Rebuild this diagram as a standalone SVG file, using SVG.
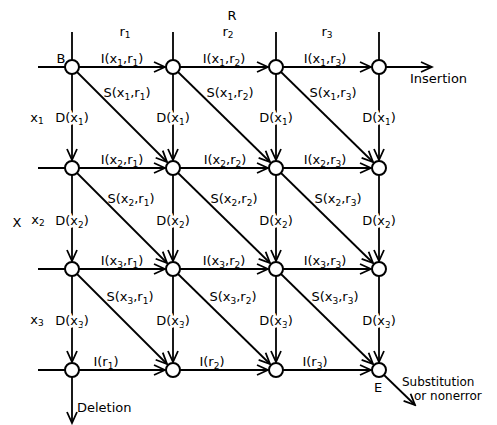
<svg xmlns="http://www.w3.org/2000/svg" width="497" height="425" viewBox="0 0 497 425">
<style>
text{font-family:"DejaVu Sans","Liberation Sans",sans-serif;font-size:13px;fill:#000}
.m{text-anchor:middle}
.s{font-size:9px}
.sm{font-size:12px}
.h{paint-order:stroke;stroke:#fff;stroke-width:5px;stroke-linejoin:round}
.ln{stroke:#000;stroke-width:1.8;fill:none}
.ar{stroke:#000;stroke-width:1.8;fill:none;marker-end:url(#a)}
.nd{fill:#fff;stroke:#000;stroke-width:2}
</style>
<defs>
<marker id="a" viewBox="-13 -7 15 14" refX="0" refY="0" markerWidth="15" markerHeight="14" markerUnits="userSpaceOnUse" orient="auto">
<path d="M-11,-5 L0,0 L-11,5" fill="none" stroke="#000" stroke-width="1.8"/>
</marker>
</defs>
<g id="connectors">
<path class="ln" d="M38,67H65M38,168H65M38,269H65M38,370H65M72,32V60M173,32V60M276,32V60M379,32V60"/>
<path class="ar" d="M79,67H165"/><path class="ar" d="M180,67H268"/><path class="ar" d="M283,67H371"/>
<path class="ar" d="M79,168H165"/><path class="ar" d="M180,168H268"/><path class="ar" d="M283,168H371"/>
<path class="ar" d="M79,269H165"/><path class="ar" d="M180,269H268"/><path class="ar" d="M283,269H371"/>
<path class="ar" d="M79,370H165"/><path class="ar" d="M180,370H268"/><path class="ar" d="M283,370H371"/>
<path class="ar" d="M72,74V160"/><path class="ar" d="M72,175V261"/><path class="ar" d="M72,276V362"/>
<path class="ar" d="M173,74V160"/><path class="ar" d="M173,175V261"/><path class="ar" d="M173,276V362"/>
<path class="ar" d="M276,74V160"/><path class="ar" d="M276,175V261"/><path class="ar" d="M276,276V362"/>
<path class="ar" d="M379,74V160"/><path class="ar" d="M379,175V261"/><path class="ar" d="M379,276V362"/>
<path class="ar" d="M77,72L167,162"/><path class="ar" d="M178,72L270,162"/><path class="ar" d="M281,72L373,162"/>
<path class="ar" d="M77,173L167,263"/><path class="ar" d="M178,173L270,263"/><path class="ar" d="M281,173L373,263"/>
<path class="ar" d="M77,274L167,364"/><path class="ar" d="M178,274L270,364"/><path class="ar" d="M281,274L373,364"/>
<path class="ar" d="M386,67H432"/>
<path class="ar" d="M72,377V423"/>
<path class="ar" d="M384,375L415,405"/>
</g>
<g id="nodes">
<g id="n11"><circle class="nd" cx="72" cy="67" r="7"/></g>
<g id="n12"><circle class="nd" cx="173" cy="67" r="7"/></g>
<g id="n13"><circle class="nd" cx="276" cy="67" r="7"/></g>
<g id="n14"><circle class="nd" cx="379" cy="67" r="7"/></g>
<g id="n21"><circle class="nd" cx="72" cy="168" r="7"/></g>
<g id="n22"><circle class="nd" cx="173" cy="168" r="7"/></g>
<g id="n23"><circle class="nd" cx="276" cy="168" r="7"/></g>
<g id="n24"><circle class="nd" cx="379" cy="168" r="7"/></g>
<g id="n31"><circle class="nd" cx="72" cy="269" r="7"/></g>
<g id="n32"><circle class="nd" cx="173" cy="269" r="7"/></g>
<g id="n33"><circle class="nd" cx="276" cy="269" r="7"/></g>
<g id="n34"><circle class="nd" cx="379" cy="269" r="7"/></g>
<g id="n41"><circle class="nd" cx="72" cy="370" r="7"/></g>
<g id="n42"><circle class="nd" cx="173" cy="370" r="7"/></g>
<g id="n43"><circle class="nd" cx="276" cy="370" r="7"/></g>
<g id="n44"><circle class="nd" cx="379" cy="370" r="7"/></g>
</g>
<g id="labels">
<text class="m" x="232" y="20">R</text>
<text class="m" x="125" y="36">r<tspan class="s" dy="2">1</tspan></text>
<text class="m" x="228" y="36">r<tspan class="s" dy="2">2</tspan></text>
<text class="m" x="327" y="36">r<tspan class="s" dy="2">3</tspan></text>
<text class="m" x="61" y="63">B</text>
<text class="m" x="378" y="392">E</text>
<text x="410" y="83">Insertion</text>
<text x="77" y="412">Deletion</text>
<text class="sm" x="402" y="386">Substitution</text>
<text class="sm" x="414" y="400">or nonerror</text>
<text class="m" x="17" y="227">X</text>
<text class="m" x="37" y="122">x<tspan class="s" dy="2">1</tspan></text>
<text class="m" x="38" y="224">x<tspan class="s" dy="2">2</tspan></text>
<text class="m" x="37" y="324">x<tspan class="s" dy="2">3</tspan></text>

<text class="m" x="122" y="63">I(x<tspan class="s" dy="3">1</tspan><tspan dy="-3">,r</tspan><tspan class="s" dy="3">1</tspan><tspan dy="-3">)</tspan></text>
<text class="m" x="224" y="63">I(x<tspan class="s" dy="3">1</tspan><tspan dy="-3">,r</tspan><tspan class="s" dy="3">2</tspan><tspan dy="-3">)</tspan></text>
<text class="m" x="325" y="63">I(x<tspan class="s" dy="3">1</tspan><tspan dy="-3">,r</tspan><tspan class="s" dy="3">3</tspan><tspan dy="-3">)</tspan></text>
<text class="m" x="122" y="164">I(x<tspan class="s" dy="3">2</tspan><tspan dy="-3">,r</tspan><tspan class="s" dy="3">1</tspan><tspan dy="-3">)</tspan></text>
<text class="m" x="225" y="164">I(x<tspan class="s" dy="3">2</tspan><tspan dy="-3">,r</tspan><tspan class="s" dy="3">2</tspan><tspan dy="-3">)</tspan></text>
<text class="m" x="325" y="164">I(x<tspan class="s" dy="3">2</tspan><tspan dy="-3">,r</tspan><tspan class="s" dy="3">3</tspan><tspan dy="-3">)</tspan></text>
<text class="m" x="122" y="265">I(x<tspan class="s" dy="3">3</tspan><tspan dy="-3">,r</tspan><tspan class="s" dy="3">1</tspan><tspan dy="-3">)</tspan></text>
<text class="m" x="224" y="265">I(x<tspan class="s" dy="3">3</tspan><tspan dy="-3">,r</tspan><tspan class="s" dy="3">2</tspan><tspan dy="-3">)</tspan></text>
<text class="m" x="325" y="265">I(x<tspan class="s" dy="3">3</tspan><tspan dy="-3">,r</tspan><tspan class="s" dy="3">3</tspan><tspan dy="-3">)</tspan></text>
<text class="m" x="106" y="366">I(r<tspan class="s" dy="3">1</tspan><tspan dy="-3">)</tspan></text>
<text class="m" x="212" y="366">I(r<tspan class="s" dy="3">2</tspan><tspan dy="-3">)</tspan></text>
<text class="m" x="315" y="366">I(r<tspan class="s" dy="3">3</tspan><tspan dy="-3">)</tspan></text>

<text class="m" x="127" y="97">S(x<tspan class="s" dy="3">1</tspan><tspan dy="-3">,r</tspan><tspan class="s" dy="3">1</tspan><tspan dy="-3">)</tspan></text>
<text class="m" x="230" y="97">S(x<tspan class="s" dy="3">1</tspan><tspan dy="-3">,r</tspan><tspan class="s" dy="3">2</tspan><tspan dy="-3">)</tspan></text>
<text class="m" x="333" y="97">S(x<tspan class="s" dy="3">1</tspan><tspan dy="-3">,r</tspan><tspan class="s" dy="3">3</tspan><tspan dy="-3">)</tspan></text>
<text class="m" x="131" y="203">S(x<tspan class="s" dy="3">2</tspan><tspan dy="-3">,r</tspan><tspan class="s" dy="3">1</tspan><tspan dy="-3">)</tspan></text>
<text class="m" x="234" y="203">S(x<tspan class="s" dy="3">2</tspan><tspan dy="-3">,r</tspan><tspan class="s" dy="3">2</tspan><tspan dy="-3">)</tspan></text>
<text class="m" x="338" y="203">S(x<tspan class="s" dy="3">2</tspan><tspan dy="-3">,r</tspan><tspan class="s" dy="3">3</tspan><tspan dy="-3">)</tspan></text>
<text class="m" x="130" y="301">S(x<tspan class="s" dy="3">3</tspan><tspan dy="-3">,r</tspan><tspan class="s" dy="3">1</tspan><tspan dy="-3">)</tspan></text>
<text class="m" x="233" y="301">S(x<tspan class="s" dy="3">3</tspan><tspan dy="-3">,r</tspan><tspan class="s" dy="3">2</tspan><tspan dy="-3">)</tspan></text>
<text class="m" x="335" y="301">S(x<tspan class="s" dy="3">3</tspan><tspan dy="-3">,r</tspan><tspan class="s" dy="3">3</tspan><tspan dy="-3">)</tspan></text>

<text class="m h" x="72" y="122">D(x<tspan class="s" dy="3">1</tspan><tspan dy="-3">)</tspan></text>
<text class="m h" x="173" y="122">D(x<tspan class="s" dy="3">1</tspan><tspan dy="-3">)</tspan></text>
<text class="m h" x="276" y="122">D(x<tspan class="s" dy="3">1</tspan><tspan dy="-3">)</tspan></text>
<text class="m h" x="379" y="122">D(x<tspan class="s" dy="3">1</tspan><tspan dy="-3">)</tspan></text>
<text class="m h" x="72" y="225">D(x<tspan class="s" dy="3">2</tspan><tspan dy="-3">)</tspan></text>
<text class="m h" x="173" y="225">D(x<tspan class="s" dy="3">2</tspan><tspan dy="-3">)</tspan></text>
<text class="m h" x="276" y="225">D(x<tspan class="s" dy="3">2</tspan><tspan dy="-3">)</tspan></text>
<text class="m h" x="379" y="225">D(x<tspan class="s" dy="3">2</tspan><tspan dy="-3">)</tspan></text>
<text class="m h" x="72" y="325">D(x<tspan class="s" dy="3">3</tspan><tspan dy="-3">)</tspan></text>
<text class="m h" x="173" y="325">D(x<tspan class="s" dy="3">3</tspan><tspan dy="-3">)</tspan></text>
<text class="m h" x="276" y="325">D(x<tspan class="s" dy="3">3</tspan><tspan dy="-3">)</tspan></text>
<text class="m h" x="379" y="325">D(x<tspan class="s" dy="3">3</tspan><tspan dy="-3">)</tspan></text>
</g>
</svg>
